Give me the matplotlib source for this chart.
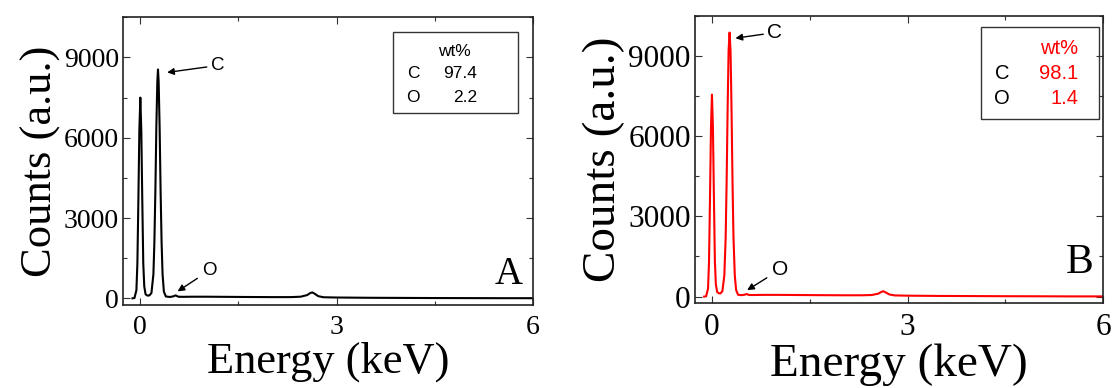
import matplotlib
matplotlib.use("Agg")
import matplotlib.pyplot as plt
from matplotlib.ticker import MultipleLocator

# ---- data ----
energy_a = [-0.12, -0.09, -0.06, -0.045, -0.03, -0.015, 0.0, 0.015, 0.03, 0.045,
            0.06, 0.08, 0.11, 0.14, 0.17, 0.20, 0.215, 0.23, 0.245, 0.26, 0.27,
            0.28, 0.295, 0.31, 0.325, 0.34, 0.36, 0.39, 0.45, 0.50, 0.54, 0.58,
            0.65, 0.8, 1.0, 1.3, 1.6, 2.0, 2.3, 2.45, 2.55, 2.6, 2.63, 2.66,
            2.72, 2.8, 3.0, 3.5, 4.0, 4.5, 5.0, 5.5, 6.0]
counts_a = [0, 10, 300, 1300, 3650, 6260, 7500, 6260, 3650, 1300,
            450, 150, 100, 110, 200, 900, 2100, 4000, 6400, 8100, 8550,
            8100, 6400, 4000, 2100, 900, 250, 70, 50, 70, 110, 60,
            55, 60, 60, 55, 50, 45, 45, 60, 120, 200, 220, 180,
            80, 40, 30, 20, 15, 10, 8, 5, 5]

energy_b = [-0.12, -0.09, -0.06, -0.045, -0.03, -0.015, 0.0, 0.015, 0.03, 0.045,
            0.06, 0.08, 0.11, 0.13, 0.16, 0.19, 0.21, 0.225, 0.24, 0.255, 0.27,
            0.285, 0.30, 0.315, 0.33, 0.35, 0.37, 0.40, 0.45, 0.50, 0.53, 0.57,
            0.65, 0.8, 1.0, 1.3, 1.6, 2.0, 2.3, 2.45, 2.55, 2.6, 2.63, 2.66,
            2.72, 2.8, 3.0, 3.5, 4.0, 4.5, 5.0, 5.5, 6.0]
counts_b = [0, 10, 300, 1300, 3700, 6300, 7550, 6300, 3700, 1300,
            450, 170, 120, 120, 200, 800, 2200, 4300, 7000, 9200, 9870,
            9200, 7000, 4300, 2200, 800, 250, 70, 55, 70, 95, 60,
            60, 65, 65, 60, 55, 50, 50, 60, 110, 180, 200, 160,
            80, 45, 35, 25, 20, 15, 12, 8, 8]

elements = ["C", "O"]
wt_a = ["97.4", "2.2"]
wt_b = ["98.1", "1.4"]
panel_labels = ["A", "B"]

x_ticks = [0, 3, 6]
y_ticks = [0, 3000, 6000, 9000]

plt.rcParams["font.family"] = ["Liberation Serif", "DejaVu Serif"]

fig = plt.figure(figsize=(11.12, 3.88), dpi=100)
ax_a = fig.add_axes([0.1109, 0.2139, 0.3682, 0.7415])
ax_b = fig.add_axes([0.6250, 0.2183, 0.3672, 0.7412])


def style_axis(ax, tick_fs, label_fs):
    ax.set_xlim(-0.26, 6.0)
    ax.set_ylim(-250, 10500)
    ax.set_xticks(x_ticks)
    ax.set_yticks(y_ticks)
    ax.xaxis.set_minor_locator(MultipleLocator(1.5))
    ax.yaxis.set_minor_locator(MultipleLocator(1500))
    ax.tick_params(which="both", direction="in", top=True, right=True,
                   width=0.8, colors="#333333", labelcolor="black")
    ax.tick_params(which="major", length=5)
    ax.tick_params(which="minor", length=3)
    ax.tick_params(axis="x", labelsize=tick_fs, pad=7)
    ax.tick_params(axis="y", labelsize=tick_fs, pad=3)
    for s in ax.spines.values():
        s.set_linewidth(1.2)
        s.set_color("#222222")
    ax.set_xlabel("Energy (keV)", fontsize=label_fs, labelpad=1)
    ax.set_ylabel("Counts (a.u.)", fontsize=label_fs, labelpad=2)


# Panel A
ax_a.plot(energy_a, counts_a, color="black", lw=1.5)
style_axis(ax_a, 20, 32)
ax_a.annotate("C", xy=(0.41, 8440), xytext=(1.08, 8700),
              fontsize=13.5, family="Liberation Sans", va="center", ha="left",
              arrowprops=dict(arrowstyle="-|>", color="black", lw=1.0,
                              mutation_scale=10, shrinkA=1, shrinkB=0))
ax_a.annotate("O", xy=(0.57, 260), xytext=(0.95, 1050),
              fontsize=13.5, family="Liberation Sans", va="center", ha="left",
              arrowprops=dict(arrowstyle="-|>", color="black", lw=1.0,
                              mutation_scale=10, shrinkA=2, shrinkB=0))
ax_a.text(0.975, 0.04, panel_labels[0], transform=ax_a.transAxes,
          fontsize=28, ha="right", va="bottom")
# wt% box A (pixel coords converted to figure fraction)
W, H = 1112, 388
box_a = plt.Rectangle((392.7 / W, 1 - 112.7 / H), (518.3 - 392.7) / W,
                      (112.7 - 32.3) / H, transform=fig.transFigure,
                      fill=False, ec="#333333", lw=1.0)
fig.add_artist(box_a)
fs_box_a = 12.5
fig.text(454 / W, 1 - 51.7 / H, "wt%", fontsize=fs_box_a, family="Liberation Sans",
         ha="center", va="center")
for i, (el, v) in enumerate(zip(elements, wt_a)):
    yy = 1 - (74 + 23.7 * i) / H
    fig.text(413 / W, yy, el, fontsize=fs_box_a, family="Liberation Sans",
             ha="center", va="center")
    fig.text(477 / W, yy, v, fontsize=fs_box_a, family="Liberation Sans",
             ha="right", va="center")

# Panel B
ax_b.plot(energy_b, counts_b, color="#ff0000", lw=1.5)
style_axis(ax_b, 22.5, 34)
ax_b.annotate("C", xy=(0.36, 9660), xytext=(0.85, 9870),
              fontsize=15, family="Liberation Sans", va="center", ha="left",
              arrowprops=dict(arrowstyle="-|>", color="black", lw=1.0,
                              mutation_scale=10, shrinkA=1, shrinkB=0))
ax_b.annotate("O", xy=(0.54, 242), xytext=(0.92, 1013),
              fontsize=15, family="Liberation Sans", va="center", ha="left",
              arrowprops=dict(arrowstyle="-|>", color="black", lw=1.0,
                              mutation_scale=10, shrinkA=2, shrinkB=0))
ax_b.text(0.975, 0.075, panel_labels[1], transform=ax_b.transAxes,
          fontsize=30, ha="right", va="bottom")
box_b = plt.Rectangle((981 / W, 1 - 119 / H), (1099 - 981) / W,
                      (119 - 26.7) / H, transform=fig.transFigure,
                      fill=False, ec="#333333", lw=1.0)
fig.add_artist(box_b)
fs_box_b = 14.5
fig.text(1078.3 / W, 1 - 48.3 / H, "wt%", fontsize=fs_box_b, family="Liberation Sans",
         ha="right", va="center", color="#ff0000")
for i, (el, v) in enumerate(zip(elements, wt_b)):
    yy = 1 - (73.3 + 25.7 * i) / H
    fig.text(1002 / W, yy, el, fontsize=fs_box_b, family="Liberation Sans",
             ha="center", va="center")
    fig.text(1078 / W, yy, v, fontsize=fs_box_b, family="Liberation Sans",
             ha="right", va="center", color="#ff0000")

fig.savefig("out.png", dpi=100)
